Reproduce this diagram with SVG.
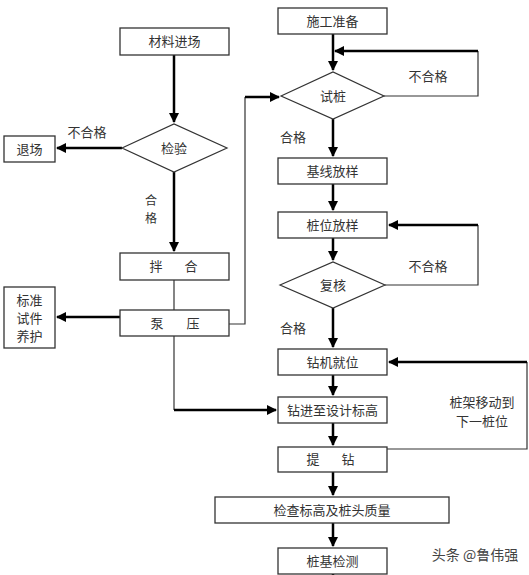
<svg xmlns="http://www.w3.org/2000/svg" width="529" height="575" viewBox="0 0 529 575">
<defs>
<style>
.box{fill:#fff;stroke:#333;stroke-width:1.3}
.dia{fill:#fff;stroke:#333;stroke-width:1.2}
.t{font-family:"Noto Sans CJK SC","Liberation Sans",sans-serif;font-size:13px;fill:#333;text-anchor:middle}
.thick{fill:none;stroke:#000;stroke-width:2.5}
.thin{fill:none;stroke:#333;stroke-width:1.2}
</style>
<marker id="ah" markerWidth="4" markerHeight="4" refX="3.6" refY="2" orient="auto" markerUnits="strokeWidth">
<path d="M0,0 L4,2 L0,4 Z" fill="#000"/>
</marker>
</defs>
<rect width="529" height="575" fill="#fff"/>
<g id="connectors">
<path class="thick" d="M174,55 V122" marker-end="url(#ah)"/>
<path class="thick" d="M122,148 H57" marker-end="url(#ah)"/>
<path class="thick" d="M174,172 V251" marker-end="url(#ah)"/>
<path class="thin" d="M174,280 V310"/>
<path class="thick" d="M120,317 H57" marker-end="url(#ah)"/>
<path class="thin" d="M229,324 H245 V97"/>
<path class="thick" d="M245,97 H279" marker-end="url(#ah)"/>
<path class="thin" d="M174,336 V410"/>
<path class="thick" d="M174,410 H276" marker-end="url(#ah)"/>
<path class="thick" d="M333,34 V70" marker-end="url(#ah)"/>
<path class="thin" d="M384,96 H478 V51"/>
<path class="thick" d="M478,51 H335" marker-end="url(#ah)"/>
<path class="thick" d="M333,119 V156" marker-end="url(#ah)"/>
<path class="thick" d="M333,184 V210" marker-end="url(#ah)"/>
<path class="thick" d="M333,238 V260" marker-end="url(#ah)"/>
<path class="thin" d="M385,285 H478 V225"/>
<path class="thick" d="M478,225 H389" marker-end="url(#ah)"/>
<path class="thick" d="M333,308 V347" marker-end="url(#ah)"/>
<path class="thick" d="M333,375 V395" marker-end="url(#ah)"/>
<path class="thick" d="M333,423 V445" marker-end="url(#ah)"/>
<path class="thin" d="M387,449 H527 V362"/>
<path class="thick" d="M527,362 H389" marker-end="url(#ah)"/>
<path class="thick" d="M333,472 V495" marker-end="url(#ah)"/>
<path class="thick" d="M333,523 V546" marker-end="url(#ah)"/>
<path class="thick" d="M333,574 V575"/>
</g>
<g id="labels">
<text class="t" x="87" y="137">不合格</text>
<text class="t" x="151" y="205" style="font-size:12px">合</text>
<text class="t" x="151" y="223" style="font-size:12px">格</text>
<text class="t" x="428" y="81">不合格</text>
<text class="t" x="293" y="142">合格</text>
<text class="t" x="428" y="271">不合格</text>
<text class="t" x="293" y="333">合格</text>
<text class="t" x="482" y="407">桩架移动到</text>
<text class="t" x="482" y="426">下一桩位</text>
</g>
<g id="n-cailiao"><rect class="box" x="120" y="28" width="109" height="27"/><text class="t" x="174.5" y="46">材料进场</text></g>
<g id="n-jianyan"><polygon class="dia" points="122,148 174,124 227,148 174,172"/><text class="t" x="174" y="153">检验</text></g>
<g id="n-tuichang"><rect class="box" x="4" y="136" width="51" height="26"/><text class="t" x="29.5" y="153.5">退场</text></g>
<g id="n-banhe"><rect class="box" x="120" y="253" width="109" height="27"/><text class="t" y="271"><tspan x="156">拌</tspan><tspan x="191">合</tspan></text></g>
<g id="n-bengya"><rect class="box" x="120" y="310" width="109" height="26"/><text class="t" y="327.5"><tspan x="157">泵</tspan><tspan x="193">压</tspan></text></g>
<g id="n-biaozhun"><rect class="box" x="4" y="287" width="51" height="61"/><text class="t" x="29.5" y="304.5">标准</text><text class="t" x="29.5" y="322.5">试件</text><text class="t" x="29.5" y="340.5">养护</text></g>
<g id="n-shigong"><rect class="box" x="278" y="8" width="109" height="26"/><text class="t" x="332.5" y="25.5">施工准备</text></g>
<g id="n-shizhuang"><polygon class="dia" points="281,96 333,72 384,96 333,119"/><text class="t" x="333" y="100.5">试桩</text></g>
<g id="n-jixian"><rect class="box" x="278" y="158" width="109" height="26"/><text class="t" x="332.5" y="175.5">基线放样</text></g>
<g id="n-zhuangwei"><rect class="box" x="278" y="212" width="109" height="26"/><text class="t" x="332.5" y="229.5">桩位放样</text></g>
<g id="n-fuhe"><polygon class="dia" points="280,285 333,262 385,285 333,308"/><text class="t" x="333" y="289.5">复核</text></g>
<g id="n-zuanji"><rect class="box" x="278" y="349" width="109" height="26"/><text class="t" x="332.5" y="366.5">钻机就位</text></g>
<g id="n-zuanjin"><rect class="box" x="278" y="397" width="109" height="26"/><text class="t" x="332.5" y="414.5">钻进至设计标高</text></g>
<g id="n-tizuan"><rect class="box" x="278" y="447" width="109" height="25"/><text class="t" y="464"><tspan x="313">提</tspan><tspan x="348">钻</tspan></text></g>
<g id="n-jiancha"><rect class="box" x="215" y="497" width="234" height="26"/><text class="t" x="332" y="514.5">检查标高及桩头质量</text></g>
<g id="n-zhuangji"><rect class="box" x="278" y="548" width="109" height="26"/><text class="t" x="332.5" y="565.5">桩基检测</text></g>
<text class="t" x="475" y="560" style="font-size:14px;fill:#444">头条 @鲁伟强</text>
</svg>
